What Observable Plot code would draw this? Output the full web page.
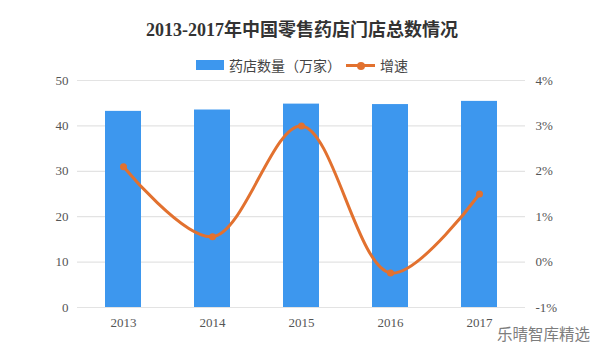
<!DOCTYPE html>
<html>
<head>
<meta charset="utf-8">
<script src="https://cdn.jsdelivr.net/npm/d3@7"></script>
<script src="https://cdn.jsdelivr.net/npm/@observablehq/plot@0.6"></script>
<style>
  body { margin: 0; background: #fff; }
  #wrap { position: relative; width: 604px; height: 359px; overflow: hidden; background: #fff;
          font-family: "Liberation Serif", "Noto Sans CJK SC", serif; }
  #title { height: 57px; box-sizing: border-box; padding-top: 19px; text-align: center; font-size: 18px;
           color: #333; font-weight: bold; line-height: 23px; }
  #legend { height: 16px; display: flex; align-items: center; justify-content: center; font-size: 14px; color: #444; }
  .sw-bar { display: inline-block; width: 28px; height: 10px; background: #3d97ee; margin-right: 5px; }
  .sw-line { display: inline-block; position: relative; width: 29px; height: 10px; margin: 0 5px 0 5px; }
  .sw-line::before { content: ""; position: absolute; left: 0; right: 0; top: 4px; height: 3px; background: #e2712f; }
  .sw-line::after { content: ""; position: absolute; left: 10.5px; top: 1.5px; width: 8px; height: 8px; border-radius: 50%; background: #e2712f; }
  #chart svg { display: block; }
  #mark { position: absolute; left: 497px; top: 322px; font-size: 15.5px; color: #7d7d7d;
          font-family: "Noto Sans CJK SC", sans-serif; }
</style>
</head>
<body>
<div id="wrap">
  <div id="title">2013-2017年中国零售药店门店总数情况</div>
  <div id="legend"><span class="sw-bar"></span><span>药店数量（万家）</span><span class="sw-line"></span><span>增速</span></div>
  <div id="chart"></div>
  <div id="mark">乐晴智库精选</div>
</div>
<script>
const years = ["2013", "2014", "2015", "2016", "2017"];
const stores = [43.2, 43.5, 44.8, 44.7, 45.4];     // 药店数量（万家）
const growth = [2.1, 0.56, 3.0, -0.24, 1.5];        // 增速 (%)
const leftTicks = [0, 10, 20, 30, 40, 50];
const rightTickLabels = ["-1%", "0%", "1%", "2%", "3%", "4%"];

const data = years.map((y, i) => ({year: y, stores: stores[i], growth: growth[i]}));
// growth mapped onto the left scale: -1% ↔ 0, 4% ↔ 50
const g2y = g => (g + 1) * 10;

const chart = Plot.plot({
  width: 604,
  height: 286,
  marginTop: 7,
  marginBottom: 52,
  marginLeft: 77,
  marginRight: 79,
  style: {fontFamily: "'Liberation Serif', 'Noto Sans CJK SC', serif", fontSize: "13px", color: "#555", background: "transparent"},
  x: {type: "band", domain: years, paddingInner: 0.59, paddingOuter: 0.295, label: null},
  y: {domain: [0, 50], label: null},
  marks: [
    Plot.ruleY(leftTicks, {stroke: "#e3e3e3", strokeWidth: 1.2}),
    Plot.barY(data, {x: "year", y: "stores", fill: "#3d97ee"}),
    Plot.line(data, {x: "year", y: d => g2y(d.growth), stroke: "#e2712f", strokeWidth: 3, curve: "catmull-rom"}),
    Plot.dot(data, {x: "year", y: d => g2y(d.growth), r: 3.5, fill: "#e2712f", stroke: "none"}),
    Plot.axisY(leftTicks, {anchor: "left", tickSize: 0, tickPadding: 9, label: null, fontSize: 13}),
    Plot.axisY(leftTicks, {anchor: "right", tickSize: 0, tickPadding: 10, label: null, fontSize: 13,
      tickFormat: d => rightTickLabels[leftTicks.indexOf(d)]}),
    Plot.axisX({tickSize: 0, tickPadding: 10, label: null, fontSize: 13})
  ]
});
document.getElementById("chart").appendChild(chart);
</script>
</body>
</html>
